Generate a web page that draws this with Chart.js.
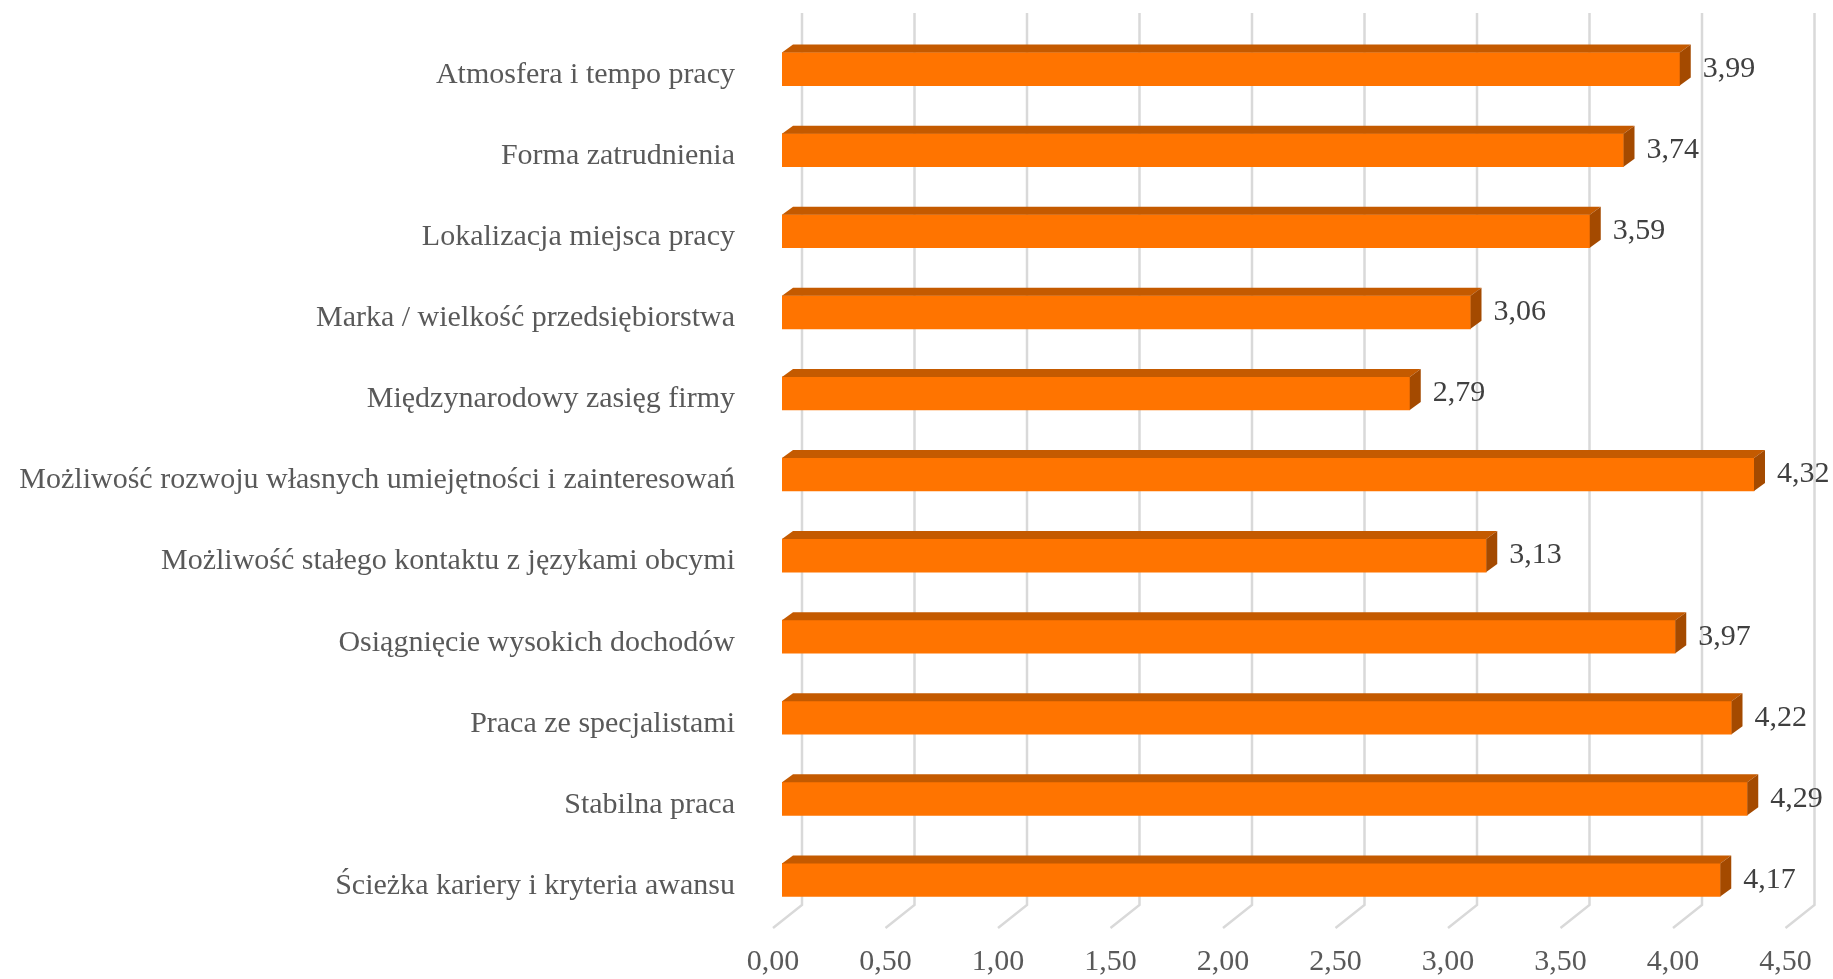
<!DOCTYPE html>
<html><head><meta charset="utf-8">
<script src="https://cdn.jsdelivr.net/npm/chart.js@4/dist/chart.umd.min.js"></script>
<style>html,body{margin:0;padding:0;background:#fff;}canvas{display:block}</style>
</head><body>
<canvas id="c" width="1833" height="979"></canvas>
<script>
const categories = [
  'Atmosfera i tempo pracy',
  'Forma zatrudnienia',
  'Lokalizacja miejsca pracy',
  'Marka / wielkość przedsiębiorstwa',
  'Międzynarodowy zasięg firmy',
  'Możliwość rozwoju własnych umiejętności i zainteresowań',
  'Możliwość stałego kontaktu z językami obcymi',
  'Osiągnięcie wysokich dochodów',
  'Praca ze specjalistami',
  'Stabilna praca',
  'Ścieżka kariery i kryteria awansu'
];
const values = [3.99, 3.74, 3.59, 3.06, 2.79, 4.32, 3.13, 3.97, 4.22, 4.29, 4.17];
const tickValues = [0, 0.5, 1, 1.5, 2, 2.5, 3, 3.5, 4, 4.5];

const FONT = '"Liberation Serif", "Times New Roman", serif';
const fmt = v => v.toFixed(2).replace('.', ',');

// 3D depth styling
const BAR_DX = 11, BAR_DY = 8;
const WALL_DX = 20, WALL_DY = 15.5, FLOOR_DX = -9, FLOOR_DY = 7.5;

const grid3d = {
  id: 'grid3d',
  beforeDatasetsDraw(chart) {
    const {ctx, chartArea: a, scales: {x}} = chart;
    ctx.save();
    ctx.strokeStyle = '#D9D9D9';
    ctx.lineWidth = 2.5;
    x.ticks.forEach(t => {
      const px = x.getPixelForValue(t.value);
      ctx.beginPath();
      ctx.moveTo(px + WALL_DX, a.top - WALL_DY);
      ctx.lineTo(px + WALL_DX, a.bottom - WALL_DY);
      ctx.lineTo(px + FLOOR_DX, a.bottom + FLOOR_DY);
      ctx.stroke();
    });
    ctx.restore();
  }
};

const bars3d = {
  id: 'bars3d',
  afterDatasetsDraw(chart) {
    const {ctx} = chart;
    const meta = chart.getDatasetMeta(0);
    ctx.save();
    meta.data.forEach((bar, i) => {
      const p = bar.getProps(['x', 'y', 'base', 'height'], true);
      const top = p.y - p.height / 2, bottom = p.y + p.height / 2;
      ctx.fillStyle = '#C45A00';
      ctx.beginPath();
      ctx.moveTo(p.base, top);
      ctx.lineTo(p.base + BAR_DX, top - BAR_DY);
      ctx.lineTo(p.x + BAR_DX, top - BAR_DY);
      ctx.lineTo(p.x, top);
      ctx.closePath();
      ctx.fill();
      ctx.fillStyle = '#A44A00';
      ctx.beginPath();
      ctx.moveTo(p.x, top);
      ctx.lineTo(p.x + BAR_DX, top - BAR_DY);
      ctx.lineTo(p.x + BAR_DX, bottom - BAR_DY);
      ctx.lineTo(p.x, bottom);
      ctx.closePath();
      ctx.fill();
      ctx.fillStyle = '#404040';
      ctx.font = '30px ' + FONT;
      ctx.textAlign = 'left';
      ctx.textBaseline = 'middle';
      ctx.fillText(fmt(values[i]), p.x + BAR_DX + 12, p.y);
    });
    ctx.restore();
  }
};

new Chart(document.getElementById('c'), {
  type: 'bar',
  data: {
    labels: categories,
    datasets: [{
      data: values,
      backgroundColor: '#FF7400',
      borderWidth: 0,
      barThickness: 33
    }]
  },
  options: {
    indexAxis: 'y',
    responsive: false,
    animation: false,
    layout: {padding: {top: 28.5, right: 38.5, left: 0, bottom: 0}},
    plugins: {legend: {display: false}, tooltip: {enabled: false}},
    scales: {
      x: {
        min: 0, max: 4.5,
        afterBuildTicks: s => { s.ticks = tickValues.map(v => ({value: v})); },
        afterFit: s => { s.height = 58.5; s.paddingLeft = 0; s.paddingRight = 0; },
        grid: {display: false, drawTicks: false},
        border: {display: false},
        ticks: {
          callback: v => fmt(v),
          font: {family: FONT, size: 30},
          color: '#595959',
          padding: 23.5,
          labelOffset: -9,
          maxRotation: 0
        }
      },
      y: {
        afterFit: s => { s.width = 782; s.paddingTop = 0; s.paddingBottom = 0; },
        grid: {display: false, drawTicks: false},
        border: {display: false},
        ticks: {
          font: {family: FONT, size: 30},
          color: '#595959',
          padding: 47,
          labelOffset: 6
        }
      }
    }
  },
  plugins: [grid3d, bars3d]
});
</script>
</body></html>
